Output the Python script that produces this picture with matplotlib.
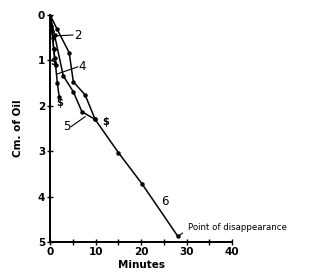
import matplotlib
matplotlib.use("Agg")
import matplotlib.pyplot as plt

# curves (minutes, cm of oil)
x2 = [0, 0.3, 0.6, 0.8, 1.0]
y2 = [0, 0.25, 0.5, 0.75, 0.95]
x4 = [0, 0.4, 0.8, 1.2, 1.6, 2.0]
y4 = [0, 0.35, 0.75, 1.1, 1.5, 1.8]
x5 = [0, 1.0, 2.9, 5.1, 7.0, 9.9]
y5 = [0, 0.45, 1.34, 1.69, 2.13, 2.3]
x6 = [0, 1.5, 4.2, 5.1, 7.7, 9.9, 15, 20.2, 28.1]
y6 = [0, 0.3, 0.83, 1.47, 1.76, 2.3, 3.03, 3.72, 4.88]

# end-of-run "$" marks
sx = [0.7, 2.2, 12.1]
sy = [1.03, 1.93, 2.35]

# curve labels: text position, leader start
lab = ["2", "4", "5", "6"]
lab_x = [6.0, 7.1, 3.6, 25.3]
lab_y = [0.44, 1.14, 2.46, 4.1]
lead_x = [0.7, 1.5, 7.7, None]
lead_y = [0.46, 1.3, 2.24, None]

fig = plt.figure(figsize=(3.15, 2.74), dpi=100)
ax = fig.add_axes([0.159, 0.117, 0.578, 0.828])

for xs, ys in [(x2, y2), (x4, y4), (x5, y5), (x6, y6)]:
    ax.plot(xs, ys, color="black", lw=1.1, marker="o", ms=2.2)

for a, b in zip(sx, sy):
    ax.text(a, b, "$", fontsize=7, fontweight="bold", ha="center", va="center")

for t, a, b, la, lb in zip(lab, lab_x, lab_y, lead_x, lead_y):
    ax.text(a, b, t, fontsize=8.5, ha="center", va="center")
    if la is not None:
        ax.plot([la, a - 1.0 if a > la else a + 1.0], [lb, b], color="black", lw=0.8)

ax.annotate("Point of disappearance", xy=(28.1, 4.88), xytext=(30.2, 4.68),
            fontsize=6.2, va="center", ha="left", annotation_clip=False,
            arrowprops=dict(arrowstyle="-", color="black", lw=0.8,
                            connectionstyle="arc3,rad=0.3"))

ax.set_xlim(0, 40)
ax.set_ylim(5, 0)
ax.set_xticks([0, 10, 20, 30, 40])
ax.set_xticks([5, 15, 25, 35], minor=True)
ax.set_yticks([0, 1, 2, 3, 4, 5])
ax.spines["top"].set_visible(False)
ax.spines["right"].set_visible(False)
ax.spines["left"].set_linewidth(1.4)
ax.spines["bottom"].set_linewidth(1.4)
ax.tick_params(direction="inout", length=5, width=1.0, labelsize=7.5, pad=1)
ax.tick_params(which="minor", direction="inout", length=4, width=1.0)
for lbl in ax.get_xticklabels() + ax.get_yticklabels():
    lbl.set_fontweight("bold")

ax.set_xlabel("Minutes", fontsize=7.5, fontweight="bold", labelpad=2)
ax.set_ylabel("Cm. of Oil", fontsize=7.5, fontweight="bold", labelpad=11)

fig.savefig("out.png", dpi=100)
